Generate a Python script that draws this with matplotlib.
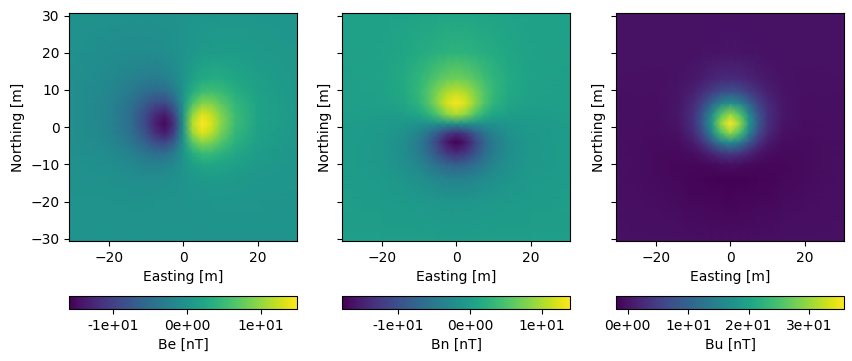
import numpy as np
import matplotlib
matplotlib.use("Agg")
import matplotlib.pyplot as plt
from matplotlib.ticker import FormatStrFormatter

# nodes of the field grids, metres
easting = [-30.5, -20, -14, -10, -7.5, -5, -2.5, 0, 2.5, 5, 7.5, 10, 14, 20, 30.5]
northing = [-30.5, -20, -14, -10, -7, -4, -1.5, 1, 3.5, 6.5, 9.5, 13, 20, 30.5]

# values, nT, one row per northing
be = [
    [0.01, 0.02, 0.02, 0.02, 0.02, 0.01, 0.01, 0, -0.01, -0.01, -0.02, -0.02, -0.02, -0.02, -0.01],
    [-0.05, -0.11, -0.14, -0.15, -0.13, -0.10, -0.06, 0, 0.06, 0.10, 0.13, 0.15, 0.14, 0.11, 0.05],
    [-0.14, -0.39, -0.65, -0.79, -0.80, -0.67, -0.39, 0, 0.39, 0.67, 0.80, 0.79, 0.65, 0.39, 0.14],
    [-0.23, -0.74, -1.46, -2.10, -2.33, -2.15, -1.34, 0, 1.34, 2.15, 2.33, 2.10, 1.46, 0.74, 0.23],
    [-0.31, -1.10, -2.44, -3.94, -4.80, -4.83, -3.21, 0, 3.21, 4.83, 4.80, 3.94, 2.44, 1.10, 0.31],
    [-0.38, -1.47, -3.64, -6.50, -8.60, -9.46, -6.75, 0, 6.75, 9.46, 8.60, 6.50, 3.64, 1.47, 0.38],
    [-0.44, -1.75, -4.52, -8.51, -11.74, -13.55, -10.09, 0, 10.09, 13.55, 11.74, 8.51, 4.52, 1.75, 0.44],
    [-0.49, -1.94, -5.02, -9.52, -13.18, -15.29, -11.44, 0, 11.44, 15.29, 13.18, 9.52, 5.02, 1.94, 0.49],
    [-0.51, -2.00, -4.98, -9.05, -12.07, -13.45, -9.71, 0, 9.71, 13.45, 12.07, 9.05, 4.98, 2.00, 0.51],
    [-0.53, -1.91, -4.35, -7.16, -8.83, -9.03, -6.08, 0, 6.08, 9.03, 8.83, 7.16, 4.35, 1.91, 0.53],
    [-0.52, -1.68, -3.40, -4.97, -5.60, -5.24, -3.30, 0, 3.30, 5.24, 5.60, 4.97, 3.40, 1.68, 0.52],
    [-0.48, -1.35, -2.35, -2.99, -3.07, -2.64, -1.56, 0, 1.56, 2.64, 3.07, 2.99, 2.35, 1.35, 0.48],
    [-0.36, -0.76, -1.01, -1.04, -0.95, -0.73, -0.40, 0, 0.40, 0.73, 0.95, 1.04, 1.01, 0.76, 0.36],
    [-0.20, -0.29, -0.30, -0.26, -0.22, -0.16, -0.08, 0, 0.08, 0.16, 0.22, 0.26, 0.30, 0.29, 0.20],
]
bn = [
    [-0.06, -0.09, -0.11, -0.12, -0.12, -0.13, -0.13, -0.13, -0.13, -0.13, -0.12, -0.12, -0.11, -0.09, -0.06],
    [-0.16, -0.35, -0.56, -0.74, -0.86, -0.95, -1.02, -1.05, -1.02, -0.95, -0.86, -0.74, -0.56, -0.35, -0.16],
    [-0.22, -0.63, -1.25, -1.95, -2.48, -3.03, -3.43, -3.60, -3.43, -3.03, -2.48, -1.95, -1.25, -0.63, -0.22],
    [-0.25, -0.82, -1.88, -3.37, -4.72, -6.26, -7.58, -8.12, -7.58, -6.26, -4.72, -3.37, -1.88, -0.82, -0.25],
    [-0.26, -0.90, -2.25, -4.45, -6.73, -9.64, -12.40, -13.60, -12.40, -9.64, -6.73, -4.45, -2.25, -0.90, -0.26],
    [-0.24, -0.86, -2.23, -4.68, -7.50, -11.50, -15.70, -17.60, -15.70, -11.50, -7.50, -4.68, -2.23, -0.86, -0.24],
    [-0.22, -0.72, -1.77, -3.58, -5.66, -8.65, -11.90, -13.40, -11.90, -8.65, -5.66, -3.58, -1.77, -0.72, -0.22],
    [-0.18, -0.49, -0.93, -1.36, -1.58, -1.63, -1.34, -1.19, -1.34, -1.63, -1.58, -1.36, -0.93, -0.49, -0.18],
    [-0.14, -0.22, 0.03, 1.04, 2.63, 5.30, 8.50, 10.03, 8.50, 5.30, 2.63, 1.04, 0.03, -0.22, -0.14],
    [-0.08, 0.10, 0.96, 2.90, 5.29, 8.68, 12.20, 13.70, 12.20, 8.68, 5.29, 2.90, 0.96, 0.10, -0.08],
    [-0.02, 0.34, 1.44, 3.39, 5.40, 7.86, 10.10, 11.00, 10.10, 7.86, 5.40, 3.39, 1.44, 0.34, -0.02],
    [0.05, 0.50, 1.52, 2.96, 4.20, 5.56, 6.65, 7.08, 6.65, 5.56, 4.20, 2.96, 1.52, 0.50, 0.05],
    [0.12, 0.51, 1.08, 1.63, 2.02, 2.36, 2.61, 2.71, 2.61, 2.36, 2.02, 1.63, 1.08, 0.51, 0.12],
    [0.13, 0.32, 0.50, 0.63, 0.70, 0.76, 0.80, 0.81, 0.80, 0.76, 0.70, 0.63, 0.50, 0.32, 0.13],
]
bu = [
    [-0.21, -0.33, -0.42, -0.48, -0.51, -0.53, -0.55, -0.55, -0.55, -0.53, -0.51, -0.48, -0.42, -0.33, -0.21],
    [-0.31, -0.59, -0.85, -1.04, -1.16, -1.25, -1.31, -1.34, -1.31, -1.25, -1.16, -1.04, -0.85, -0.59, -0.31],
    [-0.36, -0.76, -1.14, -1.42, -1.58, -1.70, -1.77, -1.79, -1.77, -1.70, -1.58, -1.42, -1.14, -0.76, -0.36],
    [-0.38, -0.82, -1.17, -1.27, -1.15, -0.88, -0.56, -0.41, -0.56, -0.88, -1.15, -1.27, -1.17, -0.82, -0.38],
    [-0.39, -0.82, -0.98, -0.50, 0.45, 2.05, 3.82, 4.63, 3.82, 2.05, 0.45, -0.50, -0.98, -0.82, -0.39],
    [-0.39, -0.75, -0.58, 0.99, 3.70, 8.44, 14.03, 16.75, 14.03, 8.44, 3.70, 0.99, -0.58, -0.75, -0.39],
    [-0.38, -0.68, -0.17, 2.43, 6.89, 14.90, 24.90, 29.90, 24.90, 14.90, 6.89, 2.43, -0.17, -0.68, -0.38],
    [-0.37, -0.59, 0.16, 3.37, 8.70, 18.20, 30.00, 35.90, 30.00, 18.20, 8.70, 3.37, 0.16, -0.59, -0.37],
    [-0.35, -0.51, 0.33, 3.40, 8.12, 16.00, 25.30, 29.80, 25.30, 16.00, 8.12, 3.40, 0.33, -0.51, -0.35],
    [-0.32, -0.43, 0.29, 2.52, 5.51, 9.96, 14.70, 16.80, 14.70, 9.96, 5.51, 2.52, 0.29, -0.43, -0.32],
    [-0.30, -0.38, 0.13, 1.43, 2.96, 4.94, 6.83, 7.60, 6.83, 4.94, 2.96, 1.43, 0.13, -0.38, -0.30],
    [-0.27, -0.34, -0.07, 0.52, 1.12, 1.81, 2.40, 2.63, 2.40, 1.81, 1.12, 0.52, -0.07, -0.34, -0.27],
    [-0.20, -0.27, -0.23, -0.15, -0.07, 0.00, 0.06, 0.08, 0.06, 0.00, -0.07, -0.15, -0.23, -0.27, -0.20],
    [-0.14, -0.18, -0.19, -0.20, -0.20, -0.20, -0.20, -0.20, -0.20, -0.20, -0.20, -0.20, -0.19, -0.18, -0.14],
]

labels = ["Be [nT]", "Bn [nT]", "Bu [nT]"]
limits = [(-15.9, 14.9), (-17.8, 14.0), (-1.9, 35.8)]
cbar_ticks = [[-10, 0, 10], [-10, 0, 10], [0, 10, 20, 30]]
lefts = [69.3, 342.3, 616.3]

W, H = 853, 361
fig = plt.figure(figsize=(W / 100, H / 100), dpi=100)

for i, field in enumerate([be, bn, bu]):
    # pixel boxes measured on the reference
    ax = fig.add_axes([lefts[i] / W, 1 - 241 / H, 228 / W, 227.7 / H])
    cax = fig.add_axes([lefts[i] / W, 1 - 309 / H, 228 / W, 13 / H])
    mesh = ax.pcolormesh(easting, northing, np.array(field), shading="gouraud",
                         cmap="viridis", vmin=limits[i][0], vmax=limits[i][1])
    ax.set_xlim(-30.6, 30.6)
    ax.set_ylim(-30.6, 30.6)
    ax.set_xticks([-20, 0, 20])
    ax.set_yticks([-30, -20, -10, 0, 10, 20, 30])
    if i > 0:
        ax.tick_params(labelleft=False)
    ax.set_xlabel("Easting [m]")
    ax.set_ylabel("Northing [m]")

    cb = fig.colorbar(mesh, cax=cax, orientation="horizontal",
                      ticks=cbar_ticks[i], format=FormatStrFormatter("%.0e"))
    cb.set_label(labels[i])

fig.savefig("out.png", dpi=100)
